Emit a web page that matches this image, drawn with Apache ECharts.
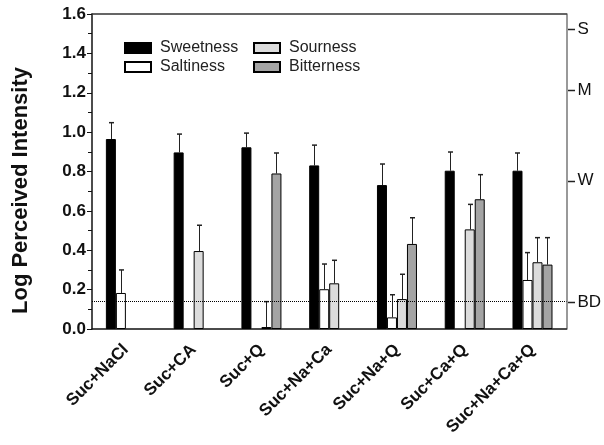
<!DOCTYPE html>
<html>
<head>
<meta charset="utf-8">
<script src="https://cdn.jsdelivr.net/npm/echarts@6/dist/echarts.min.js"></script>
<style>html,body{margin:0;padding:0;background:#fff}#c{width:604px;height:445px}</style>
</head>
<body>
<div id="c"></div>
<script>
// ---- data ----
var categories = ['Suc+NaCl','Suc+CA','Suc+Q','Suc+Na+Ca','Suc+Na+Q','Suc+Ca+Q','Suc+Na+Ca+Q'];
var sweetness    = [0.965, 0.897, 0.923, 0.831, 0.731, 0.804, 0.804];
var sweetnessErr = [0.083, 0.093, 0.072, 0.103, 0.107, 0.095, 0.090];
var saltiness    = [0.183, null, null, 0.202, 0.059, null, 0.249];
var saltinessErr = [0.117, null, null, 0.128, 0.115, null, 0.139];
var sourness     = [null, 0.396, 0.010, 0.232, 0.152, 0.506, 0.339];
var sournessErr  = [null, 0.131, 0.129, 0.117, 0.126, 0.127, 0.125];
var bitterness   = [null, null, 0.790, null, 0.432, 0.659, 0.327];
var bitternessErr= [null, null, 0.104, null, 0.133, 0.125, 0.137];
var yTicks = [0, 0.2, 0.4, 0.6, 0.8, 1.0, 1.2, 1.4, 1.6];
var bdLevel = 0.137;
var rightTickValues = [0.137, 0.753, 1.214, 1.522];
var rightTickLabels = ['BD', 'W', 'M', 'S'];

var FONT = 'Liberation Sans, Arial, sans-serif';
var BAR_W = 10;
var GRID = { left: 92, right: 36, top: 14, bottom: 116 };
var W = 604;

function barSeries(name, vals, color) {
  return {
    type: 'bar', name: name, data: vals.map(function (v) { return v == null ? '-' : v; }),
    barWidth: BAR_W, barGap: '0%',
    itemStyle: { color: color, borderColor: '#000', borderWidth: 1 },
    z: 2
  };
}
function errSeries(name, vals, errs, idx) {
  var d = [];
  vals.forEach(function (v, i) { if (v != null && errs[i] != null) d.push([i, v, v + errs[i]]); });
  return {
    type: 'custom', name: name + ' error', data: d, z: 1,
    renderItem: function (params, api) {
      var b = api.coord([api.value(0), api.value(1)]);
      var t = api.coord([api.value(0), api.value(2)]);
      var x = Math.round(b[0] + (idx - 1.5) * BAR_W) + 0.5;
      return { type: 'group', children: [
        { type: 'line', shape: { x1: x, y1: b[1], x2: x, y2: t[1] }, style: { stroke: '#222', lineWidth: 1 } },
        { type: 'line', shape: { x1: x - 2.5, y1: t[1], x2: x + 2.5, y2: t[1] }, style: { stroke: '#222', lineWidth: 1.5 } }
      ]};
    }
  };
}

var s1 = barSeries('Sweetness', sweetness, '#000');
s1.markLine = {
  silent: true, symbol: 'none', label: { show: false },
  lineStyle: { type: 'dotted', color: '#000', width: 1 },
  data: [{ yAxis: bdLevel }]
};

var legendText = { fontSize: 16, color: '#222', fontFamily: FONT, padding: [0, 0, 0, 4] };

var chart = echarts.init(document.getElementById('c'), null, { renderer: 'canvas' });
chart.setOption({
  animation: false,
  textStyle: { fontFamily: FONT },
  grid: GRID,
  legend: [
    { data: ['Sweetness', 'Saltiness'], orient: 'vertical', left: 119, top: 35, icon: 'rect',
      itemWidth: 26, itemHeight: 10, itemGap: 3, textStyle: legendText },
    { data: ['Sourness', 'Bitterness'], orient: 'vertical', left: 248, top: 35, icon: 'rect',
      itemWidth: 26, itemHeight: 10, itemGap: 3, textStyle: legendText }
  ],
  xAxis: [
    { type: 'category', data: categories, position: 'bottom',
      axisLine: { lineStyle: { color: '#111', width: 1.5 } },
      axisTick: { alignWithLabel: true, length: 6, lineStyle: { color: '#111' } },
      axisLabel: { interval: 0, rotate: 45, margin: 18, fontSize: 17, fontWeight: 'bold', color: '#111', fontFamily: FONT } },
    { type: 'category', data: categories, position: 'top',
      axisLine: { show: true, onZero: false, lineStyle: { color: '#333', width: 1.5 } },
      axisTick: { show: false }, axisLabel: { show: false } }
  ],
  yAxis: [
    { type: 'value', min: yTicks[0], max: yTicks[yTicks.length - 1], interval: 0.2,
      name: 'Log Perceived Intensity', nameLocation: 'middle', nameGap: 60,
      nameTextStyle: { fontSize: 22, fontWeight: 'bold', color: '#111', fontFamily: FONT, padding: [0, 38, 0, 0] },
      axisLine: { show: true, lineStyle: { color: '#111', width: 1.5 } },
      axisTick: { show: true, length: 5, lineStyle: { color: '#111' } },
      minorTick: { show: true, splitNumber: 2, length: 4, lineStyle: { color: '#111' } },
      splitLine: { show: false },
      axisLabel: { margin: 6, fontSize: 17, fontWeight: 'bold', color: '#111', fontFamily: FONT,
        formatter: function (v) { return v.toFixed(1); } } },
    { type: 'value', min: yTicks[0], max: yTicks[yTicks.length - 1], position: 'right',
      axisLine: { show: true, lineStyle: { color: '#777', width: 1.5 } },
      axisTick: { show: false },
      splitLine: { show: false },
      axisLabel: { margin: 11, fontSize: 17, color: '#111', fontFamily: FONT,
        customValues: rightTickValues,
        formatter: function (v) {
          for (var i = 0; i < rightTickValues.length; i++) {
            if (Math.abs(rightTickValues[i] - v) < 1e-6) return rightTickLabels[i];
          }
          return '';
        } } }
  ],
  series: [
    s1,
    barSeries('Saltiness', saltiness, '#fff'),
    barSeries('Sourness', sourness, '#dcdcdc'),
    barSeries('Bitterness', bitterness, '#a4a4a4'),
    errSeries('Sweetness', sweetness, sweetnessErr, 0),
    errSeries('Saltiness', saltiness, saltinessErr, 1),
    errSeries('Sourness', sourness, sournessErr, 2),
    errSeries('Bitterness', bitterness, bitternessErr, 3)
  ]
});

// outward ticks for the descriptor axis, placed through the right axis scale
var xr = W - GRID.right;
chart.setOption({
  graphic: { elements: rightTickValues.map(function (v, i) {
    var y = Math.round(chart.convertToPixel({ yAxisIndex: 1 }, v)) + 0.5;
    return { type: 'line', id: 'rt' + i, silent: true, z: 100,
      shape: { x1: xr, y1: y, x2: xr + 7, y2: y },
      style: { stroke: '#222', lineWidth: 1.5 } };
  }) }
});
</script>
</body>
</html>
